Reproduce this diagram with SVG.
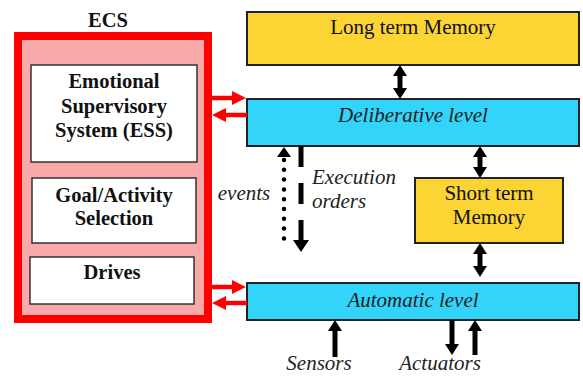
<svg xmlns="http://www.w3.org/2000/svg" width="583" height="376" viewBox="0 0 583 376">
<defs>
<style>
.box{stroke:#222;stroke-width:2}
.mem{fill:#FCD434}
.lvl{fill:#33D4FA}
.inner{fill:#fff;stroke:#333;stroke-width:1.5}
.bt{font-family:'Liberation Serif','Times New Roman',Tinos,'DejaVu Serif',serif;font-weight:bold;font-size:20.5px;fill:#111;text-anchor:middle}
.rt{font-family:'Liberation Serif','Times New Roman',Tinos,'DejaVu Serif',serif;font-size:21px;fill:#111;text-anchor:middle}
.it{font-family:'Liberation Serif','Times New Roman',Tinos,'DejaVu Serif',serif;font-style:italic;font-size:21px;fill:#222}
.blk{stroke:#000;stroke-width:5;fill:none}
.red{stroke:#f00;stroke-width:4.5;fill:none}
</style>
<marker id="bh" viewBox="0 0 11 14" refX="5" refY="7" markerWidth="11" markerHeight="14" markerUnits="userSpaceOnUse" orient="auto-start-reverse"><path d="M0,0 L11,7 L0,14 z" fill="#000"/></marker>
<marker id="rh" viewBox="0 0 14 14" refX="7" refY="7" markerWidth="14" markerHeight="14" markerUnits="userSpaceOnUse" orient="auto"><path d="M0,0 L14,7 L0,14 z" fill="#f00"/></marker>
</defs>
<rect width="583" height="376" fill="#fff"/>

<g id="ecs">
<text class="bt" x="108" y="27" font-size="20">ECS</text>
<rect x="18" y="36" width="190" height="283" fill="#F9A9A9" stroke="#f00" stroke-width="8"/>
</g>
<g id="ess">
<rect class="inner" x="31" y="65" width="166" height="97"/>
<text class="bt" x="114" y="88">Emotional</text>
<text class="bt" x="114" y="113">Supervisory</text>
<text class="bt" x="114" y="137">System (ESS)</text>
</g>
<g id="goal">
<rect class="inner" x="32" y="178" width="164" height="65"/>
<text class="bt" x="114" y="202">Goal/Activity</text>
<text class="bt" x="114" y="225">Selection</text>
</g>
<g id="drives">
<rect class="inner" x="30" y="257" width="164" height="47"/>
<text class="bt" x="112" y="279">Drives</text>
</g>

<g id="ltm">
<rect class="box mem" x="247" y="12" width="332" height="53"/>
<text class="rt" x="413" y="34">Long term Memory</text>
</g>
<g id="deliberative">
<rect class="box lvl" x="247" y="99" width="332" height="47"/>
<text class="it" x="413" y="122" text-anchor="middle">Deliberative level</text>
</g>
<g id="stm">
<rect class="box mem" x="415" y="178" width="148" height="65"/>
<text class="rt" x="489" y="200">Short term</text>
<text class="rt" x="489" y="224">Memory</text>
</g>
<g id="automatic">
<rect class="box lvl" x="247" y="283" width="332" height="37"/>
<text class="it" x="413" y="307" text-anchor="middle">Automatic level</text>
</g>

<g id="connectors">
<line class="red" x1="212" y1="98" x2="239" y2="98" marker-end="url(#rh)"/>
<line class="red" x1="247" y1="115" x2="219" y2="115" marker-end="url(#rh)"/>
<line class="red" x1="212" y1="287" x2="239" y2="287" marker-end="url(#rh)"/>
<line class="red" x1="247" y1="303" x2="219" y2="303" marker-end="url(#rh)"/>

<line class="blk" x1="400" y1="71" x2="400" y2="93" marker-start="url(#bh)" marker-end="url(#bh)"/>
<line class="blk" x1="480" y1="152" x2="480" y2="172" marker-start="url(#bh)" marker-end="url(#bh)"/>
<line class="blk" x1="480" y1="249" x2="480" y2="271" marker-start="url(#bh)" marker-end="url(#bh)"/>

<line stroke="#000" stroke-width="4.5" stroke-linecap="round" stroke-dasharray="0 9.8" x1="284" y1="160" x2="284" y2="248"/>
<polygon points="277,157 291,157 284,147" fill="#000"/>
<line stroke="#000" stroke-width="5" stroke-dasharray="21 16" x1="301" y1="146" x2="301" y2="241"/>
<polygon points="293,240 309,240 301,252" fill="#000"/>

<line class="blk" x1="335" y1="357" x2="335" y2="326" marker-end="url(#bh)"/>
<line class="blk" x1="452" y1="320" x2="452" y2="349" marker-end="url(#bh)"/>
<line class="blk" x1="475" y1="355" x2="475" y2="326" marker-end="url(#bh)"/>
</g>

<g id="labels">
<text class="it" x="244" y="200" text-anchor="middle">events</text>
<text class="it" x="312" y="184">Execution</text>
<text class="it" x="312" y="208">orders</text>
<text class="it" x="319" y="370" text-anchor="middle">Sensors</text>
<text class="it" x="440" y="370" text-anchor="middle">Actuators</text>
</g>
</svg>
